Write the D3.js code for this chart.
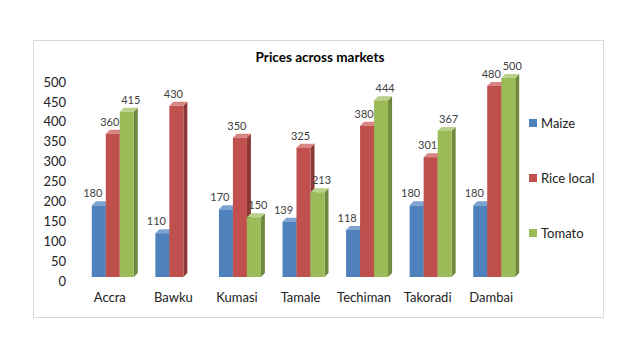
<!DOCTYPE html>
<html><head><meta charset="utf-8">
<script src="https://cdn.jsdelivr.net/npm/d3@7"></script>
<style>html,body{margin:0;padding:0;background:#fff;}svg{display:block;}</style>
</head><body>
<svg id="c" width="640" height="360"></svg>
<script>
const categories = ["Accra","Bawku","Kumasi","Tamale","Techiman","Takoradi","Dambai"];
const seriesNames = ["Maize","Rice local","Tomato"];
const maize = [180,110,170,139,118,180,180];
const riceLocal = [360,430,350,325,380,301,480];
const tomato = [415,null,150,213,444,367,500];
const yTicks = [0,50,100,150,200,250,300,350,400,450,500];
const colors = {"Maize":["#4F81BD","#385D8A","#7EA3D2"],"Rice local":["#C0504D","#8C3836","#D98583"],"Tomato":["#9BBB59","#71893F","#B9D189"]};

const seriesValues = {"Maize":maize,"Rice local":riceLocal,"Tomato":tomato};
const labelShift = {"Maize":-6,"Rice local":-3,"Tomato":4};
const svg = d3.select("#c");
const font = "Lato, 'Open Sans', sans-serif";

svg.append("rect").attr("x",33.5).attr("y",40.5).attr("width",570).attr("height",277)
  .attr("fill","#fff").attr("stroke","#d9d9d9");

svg.append("text").attr("x",320).attr("y",62).attr("text-anchor","middle")
  .attr("font-family",font).attr("font-weight","bold").attr("font-size",13.5).attr("fill","#000")
  .text("Prices across markets");

const y = d3.scaleLinear().domain([0,500]).range([277,78]);
const x0 = d3.scaleBand().domain(categories).range([78,523]);
const x1 = d3.scaleBand().domain(seriesNames).range([0,42]);
const depth = 4;

const yAxis = d3.axisLeft(y).tickValues(yTicks).tickSize(0).tickPadding(0);
const gy = svg.append("g").attr("transform","translate(66,4)").call(yAxis);
gy.select(".domain").remove();
gy.selectAll("text").attr("font-family",font).attr("font-size",13).attr("fill","#222");

const xAxis = d3.axisBottom(x0).tickSize(0).tickPadding(0);
const gx = svg.append("g").attr("transform","translate(0,293)").call(xAxis);
gx.select(".domain").remove();
gx.selectAll("text").attr("font-family",font).attr("font-size",13).attr("fill","#222");

const bars = [];
categories.forEach((c,i)=>{
  seriesNames.forEach(s=>{
    const v = seriesValues[s][i];
    if (v==null) return;
    bars.push({c,s,v});
  });
});

const gBars = svg.append("g");
bars.forEach(d=>{
  const bx = x0(d.c) + x0.bandwidth()/2 - 18 + x1(d.s);
  const bw = x1.bandwidth();
  const top = y(d.v), bot = y(0);
  const col = colors[d.s];
  const g = gBars.append("g");
  g.append("path").attr("d",`M${bx+bw},${top} L${bx+bw+depth},${top-depth} L${bx+bw+depth},${bot-depth} L${bx+bw},${bot} Z`).attr("fill",col[1]);
  g.append("path").attr("d",`M${bx},${top} L${bx+depth},${top-depth} L${bx+bw+depth},${top-depth} L${bx+bw},${top} Z`).attr("fill",col[2]);
  g.append("rect").attr("x",bx).attr("y",top).attr("width",bw).attr("height",bot-top).attr("fill",col[0]);
});
const gLab = svg.append("g");
bars.forEach(d=>{
  const bx = x0(d.c) + x0.bandwidth()/2 - 18 + x1(d.s);
  gLab.append("text").attr("x",bx + x1.bandwidth()/2 + labelShift[d.s]).attr("y",y(d.v)-8)
    .attr("text-anchor","middle").attr("font-family",font).attr("font-size",11).attr("fill","#404040")
    .text(d.v);
});

const leg = svg.append("g");
seriesNames.forEach((s,i)=>{
  const ly = 123 + i*55;
  leg.append("rect").attr("x",529).attr("y",ly-4).attr("width",8).attr("height",8).attr("fill",colors[s][0]);
  leg.append("text").attr("x",541).attr("y",ly).attr("dy","0.35em").attr("font-family",font).attr("font-size",13).attr("fill","#222").text(s);
});
</script>
</body></html>
